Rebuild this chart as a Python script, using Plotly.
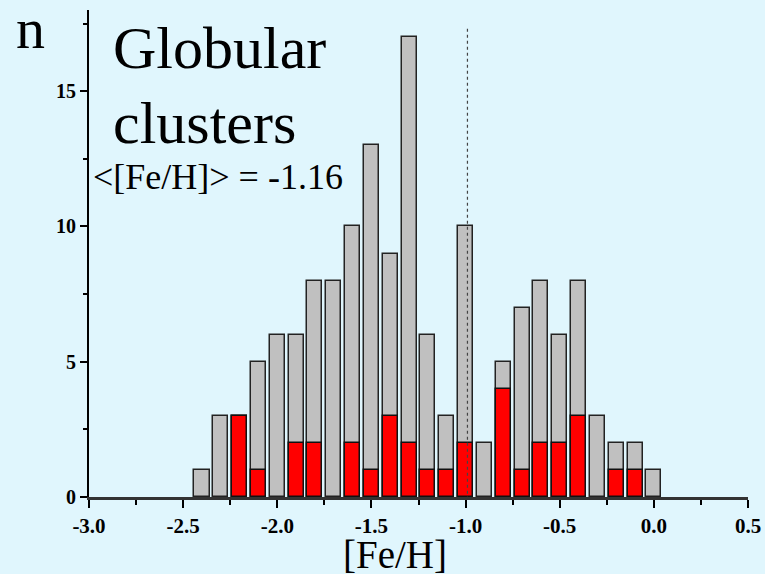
import plotly.graph_objects as go

feh = [-2.4, -2.3, -2.2, -2.1, -2.0, -1.9, -1.8, -1.7, -1.6, -1.5, -1.4, -1.3,
       -1.2, -1.1, -1.0, -0.9, -0.8, -0.7, -0.6, -0.5, -0.4, -0.3, -0.2, -0.1, 0.0]
n_all = [1, 3, 3, 5, 6, 6, 8, 8, 10, 13, 9, 17, 6, 3, 10, 2, 5, 7, 8, 6, 8, 3, 2, 2, 1]
n_red = [0, 0, 3, 1, 0, 2, 2, 0, 2, 1, 3, 2, 1, 1, 2, 0, 4, 1, 2, 2, 3, 0, 1, 1, 0]

x_ticks = [-3.0, -2.5, -2.0, -1.5, -1.0, -0.5, 0.0, 0.5]
x_labels = ["-3.0", "-2.5", "-2.0", "-1.5", "-1.0", "-0.5", "0.0", "0.5"]
y_ticks = [0, 5, 10, 15]
y_labels = ["0", "5", "10", "15"]
mean_feh = -0.99
mean_label = "<[Fe/H]> = -1.16"

BG = "#e0f6fd"
SERIF = "Liberation Serif, Times New Roman, serif"

L, R, T, B = 88.5, 16.7, 10, 77.3
W, H = 765, 574

fig = go.Figure()
fig.add_trace(go.Bar(x=feh, y=n_all, width=0.08,
                     marker=dict(color="#c0c0c0", line=dict(color="#222222", width=1.5))))
fig.add_trace(go.Bar(x=[x for x, v in zip(feh, n_red) if v > 0],
                     y=[v for v in n_red if v > 0], width=0.08,
                     marker=dict(color="#ff0000", line=dict(color="#111111", width=1.5))))

fig.add_shape(type="line", x0=mean_feh, x1=mean_feh, y0=-0.1, y1=17.4,
              xref="x", yref="y", line=dict(color="#444444", width=1.2, dash="dot"))

fig.update_layout(
    template="none",
    width=W, height=H,
    margin=dict(l=L, r=R, t=T, b=B, autoexpand=False),
    paper_bgcolor=BG, plot_bgcolor=BG,
    barmode="overlay", showlegend=False, bargap=0,
    font=dict(family=SERIF, color="black"),
    xaxis=dict(range=[-3.0, 0.5], tickvals=x_ticks, ticktext=x_labels,
               automargin=False,
               showgrid=False, zeroline=False, showline=True,
               linecolor="#333333", linewidth=3,
               ticks="outside", ticklen=8, tickwidth=2, tickcolor="black",
               minor=dict(dtick=0.25, tick0=0, ticks="outside", ticklen=5,
                          tickwidth=2, tickcolor="black", showgrid=False),
               tickfont=dict(family=SERIF, size=21, weight="bold", color="black")),
    yaxis=dict(range=[0, 18], tickvals=y_ticks, ticktext=y_labels,
               automargin=False,
               showgrid=False, zeroline=False, showline=True,
               linecolor="black", linewidth=2,
               ticks="outside", ticklen=7, tickwidth=2, tickcolor="black",
               minor=dict(dtick=2.5, tick0=0, ticks="outside", ticklen=4,
                          tickwidth=2, tickcolor="black", showgrid=False),
               tickfont=dict(family=SERIF, size=20, weight="bold", color="black")),
)

# (text, left x px, baseline y px, font size)
annots = [
    ("n", 14, 47, 58),
    ("Globular", 112, 67, 60),
    ("clusters", 112, 142, 60),
    (mean_label, 92, 189, 36),
    ("[Fe/H]", 342, 567, 39),
]
for text, xp, yp, size in annots:
    bottom = yp + 0.25 * size
    fig.add_annotation(text=text, xref="paper", yref="paper",
                       x=(xp - L) / (W - L - R),
                       y=(H - B - bottom) / (H - T - B),
                       xanchor="left", yanchor="bottom", showarrow=False,
                       font=dict(family=SERIF, size=size, color="black"),
                       borderpad=0)

fig.write_html("out.html")
